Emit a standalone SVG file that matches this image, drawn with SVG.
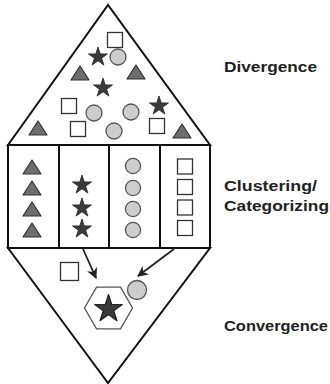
<svg xmlns="http://www.w3.org/2000/svg" xmlns:xlink="http://www.w3.org/1999/xlink" width="330" height="384" viewBox="0 0 330 384">
  <style>
    .frame { fill: none; stroke: #111; stroke-width: 2; stroke-linejoin: miter; }
    .tri { fill: #6e6e6e; stroke: #333; stroke-width: 1.2; stroke-linejoin: round; }
    .star { fill: #3a3a3a; stroke: #222; stroke-width: 0.8; stroke-linejoin: round; }
    .dot { fill: #cdcdcd; stroke: #555; stroke-width: 1.3; }
    .sq { fill: #fff; stroke: #333; stroke-width: 1.3; }
    .hex { fill: #fff; stroke: #555; stroke-width: 1.3; }
    .arrow { fill: none; stroke: #222; stroke-width: 1.8; marker-end: url(#head); }
    .label { font-family: "Liberation Sans", "DejaVu Sans", sans-serif; font-weight: 700; font-size: 14.5px; fill: #222; }
  </style>
  <defs>
    <path id="t" class="tri" d="M0,-7 L9,7 L-9,7 Z"/>
    <path id="s" d="M0,-10 L2.245,-3.09 L9.511,-3.09 L3.633,1.18 L5.878,8.09 L0,3.82 L-5.878,8.09 L-3.633,1.18 L-9.511,-3.09 L-2.245,-3.09 Z"/>
    <rect id="q" class="sq" x="-7.5" y="-7.5" width="15" height="15"/>
    <circle id="c" class="dot" r="8"/>
    <marker id="head" viewBox="0 0 10 10" refX="9" refY="5" markerWidth="6" markerHeight="6" orient="auto" markerUnits="strokeWidth">
      <path d="M0,0 L10,5 L0,10 L3,5 Z" fill="#222"/>
    </marker>
  </defs>

  <!-- divergence: scattered items in the upper triangle -->
  <g id="divergence">
    <polygon class="frame" points="8,145 108,5 210,145"/>
    <use href="#q" x="115" y="40"/>
    <use href="#s" class="star" x="98" y="57"/>
    <use href="#c" x="118" y="57"/>
    <use href="#t" x="80" y="73"/>
    <use href="#t" x="136" y="72"/>
    <use href="#s" class="star" x="103" y="88"/>
    <use href="#q" x="69" y="106"/>
    <use href="#c" x="94" y="113"/>
    <use href="#c" x="131" y="112"/>
    <use href="#s" class="star" x="159" y="106"/>
    <use href="#t" x="38" y="128"/>
    <use href="#q" x="78" y="129"/>
    <use href="#c" x="114" y="131"/>
    <use href="#q" x="157" y="126"/>
    <use href="#t" x="182" y="131"/>
  </g>

  <!-- clustering: four sorted columns -->
  <g id="clustering">
    <rect class="frame" x="8" y="145" width="202" height="103"/>
    <line class="frame" x1="59" y1="145" x2="59" y2="248"/>
    <line class="frame" x1="109" y1="145" x2="109" y2="248"/>
    <line class="frame" x1="160" y1="145" x2="160" y2="248"/>
    <g id="col-triangles">
      <use href="#t" x="32" y="167"/>
      <use href="#t" x="32" y="188"/>
      <use href="#t" x="32" y="209"/>
      <use href="#t" x="32" y="230"/>
    </g>
    <g id="col-stars">
      <use href="#s" class="star" x="82" y="185"/>
      <use href="#s" class="star" x="82" y="208"/>
      <use href="#s" class="star" x="82" y="229"/>
    </g>
    <g id="col-circles">
      <use href="#c" x="133" y="166" transform="translate(133 166) scale(0.95) translate(-133 -166)"/>
      <use href="#c" x="133" y="188" transform="translate(133 188) scale(0.95) translate(-133 -188)"/>
      <use href="#c" x="133" y="209" transform="translate(133 209) scale(0.95) translate(-133 -209)"/>
      <use href="#c" x="133" y="230" transform="translate(133 230) scale(0.95) translate(-133 -230)"/>
    </g>
    <g id="col-squares">
      <use href="#q" x="185" y="166.5"/>
      <use href="#q" x="185" y="187"/>
      <use href="#q" x="185" y="207.5"/>
      <use href="#q" x="185" y="228"/>
    </g>
  </g>

  <!-- convergence: lower triangle with the chosen item -->
  <g id="convergence">
    <polygon class="frame" points="8,248 108,383 210,248"/>
    <rect class="sq" x="60.5" y="262.5" width="18" height="18"/>
    <circle class="dot" cx="137" cy="290" r="9.5"/>
    <polygon class="hex" points="132.5,308 120.5,328.8 96.5,328.8 84.5,308 96.5,287.2 120.5,287.2"/>
    <use href="#s" class="star" transform="translate(108.5 309) scale(1.45)"/>
  </g>

  <g id="connectors">
    <line class="arrow" x1="83" y1="249" x2="96" y2="278"/>
    <line class="arrow" x1="174" y1="249" x2="138" y2="276"/>
  </g>

  <g id="labels">
    <text class="label" x="224" y="72" textLength="93" lengthAdjust="spacingAndGlyphs">Divergence</text>
    <text class="label" x="224" y="191" textLength="93" lengthAdjust="spacingAndGlyphs">Clustering/</text>
    <text class="label" x="224" y="211" textLength="105" lengthAdjust="spacingAndGlyphs">Categorizing</text>
    <text class="label" x="224" y="331" textLength="104" lengthAdjust="spacingAndGlyphs">Convergence</text>
  </g>
</svg>
